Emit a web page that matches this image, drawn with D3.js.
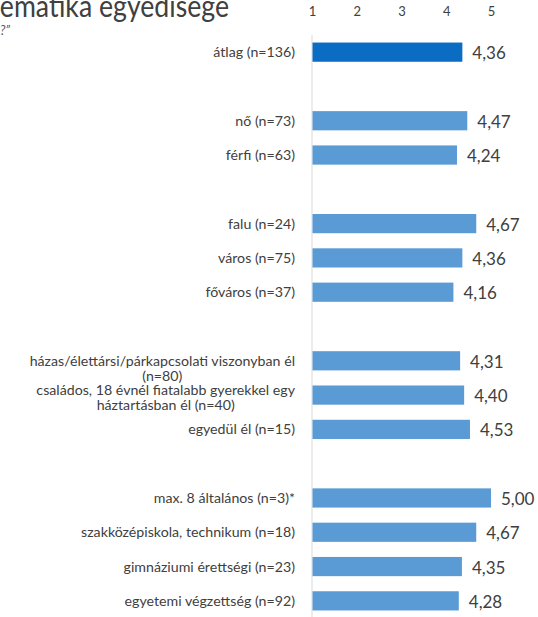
<!DOCTYPE html>
<html>
<head>
<meta charset="utf-8">
<script src="https://cdn.jsdelivr.net/npm/d3@7/dist/d3.min.js"></script>
<style>
  html, body { margin: 0; padding: 0; background: #fff; }
  svg { display: block; }
</style>
</head>
<body>
<svg id="chart" width="538" height="617"></svg>
<script>
// Rows of the chart; empty strings are spacer rows between the groups.
const categories = [
  "átlag (n=136)",
  "",
  "nő (n=73)",
  "férfi (n=63)",
  "",
  "falu (n=24)",
  "város (n=75)",
  "főváros (n=37)",
  "",
  "házas/élettársi/párkapcsolati viszonyban él\n(n=80)",
  "családos, 18 évnél fiatalabb gyerekkel egy\nháztartásban él (n=40)",
  "egyedül él (n=15)",
  "",
  "max. 8 általános (n=3)*",
  "szakközépiskola, technikum (n=18)",
  "gimnáziumi érettségi (n=23)",
  "egyetemi végzettség (n=92)"
];
const values = [4.36, null, 4.47, 4.24, null, 4.67, 4.36, 4.16, null,
                4.31, 4.40, 4.53, null, 5.00, 4.67, 4.35, 4.28];
const ticks = [1, 2, 3, 4, 5];

const title = "Matematika egyedisége";
const subtitle = "?”";

const svg = d3.select("#chart");
const font = "Lato, 'Open Sans', sans-serif";
const textColor = "#404040";

const x = d3.scaleLinear().domain([1, 5]).range([312, 491]);
const y = d3.scaleBand()
  .domain(d3.range(categories.length))
  .range([35, 618])
  .paddingInner(0.44)
  .paddingOuter(0.22);

// Title, running off the left edge of the slide
svg.append("text")
  .attr("transform", "translate(229,17) scale(0.86,1)")
  .attr("text-anchor", "end")
  .attr("font-family", font)
  .attr("font-size", 31)
  .attr("fill", "#404040")
  .text(title);

svg.append("text")
  .attr("x", 0).attr("y", 35)
  .attr("font-family", font)
  .attr("font-size", 13)
  .attr("font-style", "italic")
  .attr("fill", "#595959")
  .text(subtitle);

// Top axis labels
const axis = d3.axisTop(x).tickValues(ticks).tickSize(0).tickFormat(d3.format("d"));
const gAxis = svg.append("g").attr("transform", "translate(0,19)").call(axis);
gAxis.select(".domain").remove();
gAxis.selectAll("text")
  .attr("font-family", font)
  .attr("font-size", 13)
  .attr("fill", textColor)
  .attr("dy", 0);

// Vertical baseline at 1
svg.append("line")
  .attr("x1", x(1)).attr("x2", x(1))
  .attr("y1", 35).attr("y2", 617)
  .attr("stroke", "#d9d9d9").attr("stroke-width", 1);

const rows = categories.map((c, i) => ({ label: c, value: values[i], i }))
  .filter(d => d.value !== null);

// Bars
svg.append("g").selectAll("rect")
  .data(rows)
  .join("rect")
  .attr("x", x(1) + 0.5)
  .attr("y", d => y(d.i))
  .attr("width", d => x(d.value) - x(1) - 0.5)
  .attr("height", y.bandwidth())
  .attr("fill", d => d.i === 0 ? "#0B6CC4" : "#5B9BD5");

// Value labels
const fmt = v => d3.format(".2f")(v).replace(".", ",");
svg.append("g").selectAll("text")
  .data(rows)
  .join("text")
  .attr("x", d => x(d.value) + 10)
  .attr("y", d => y(d.i) + y.bandwidth() / 2 + 1)
  .attr("dy", "0.35em")
  .attr("font-family", font)
  .attr("font-size", 17)
  .attr("fill", textColor)
  .text(d => fmt(d.value));

// Category labels (multi-line labels are centred on their widest line)
const labelRight = 295;
const gLab = svg.append("g");
rows.forEach(d => {
  const lines = d.label.split("\n");
  const cy = y(d.i) + y.bandwidth() / 2;
  const t = gLab.append("text")
    .attr("font-family", font)
    .attr("font-size", 14.2)
    .attr("fill", textColor);
  if (lines.length === 1) {
    t.attr("x", labelRight).attr("y", cy).attr("dy", "0.35em")
      .attr("text-anchor", "end").text(lines[0]);
  } else {
    // first line sits on the bar unless the second line is the longer part
    const first = lines[1].length < 10 ? cy : cy - 5;
    const spans = lines.map((l, k) => t.append("tspan")
      .attr("y", first + k * 15).attr("dy", "0.35em").text(l));
    const w = d3.max(spans, s => s.node().getComputedTextLength());
    const mid = labelRight - w / 2;
    spans.forEach(s => s.attr("x", mid).attr("text-anchor", "middle"));
  }
});
</script>
</body>
</html>
